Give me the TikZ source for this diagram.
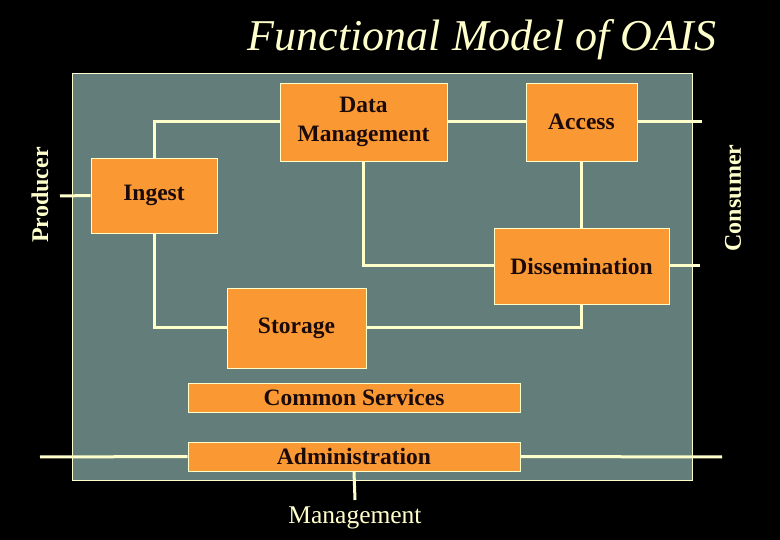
\documentclass[tikz,border=0pt]{standalone}
\usepackage{fontspec}
\setmainfont{Liberation Serif}
\definecolor{panelgray}{RGB}{99,125,122}
\definecolor{boxorange}{RGB}{250,153,51}
\definecolor{linecream}{RGB}{255,255,204}
\definecolor{labeldark}{RGB}{26,10,10}
\tikzset{
  func/.style={draw=linecream, line width=0.8pt, fill=boxorange, inner sep=0pt,
    text=labeldark, font=\fontsize{23.5}{29}\selectfont\bfseries, align=center},
  flow/.style={draw=linecream, line width=3pt},
  outer/.style={text=linecream, font=\fontsize{24}{28}\selectfont\bfseries}
}
\begin{document}
\begin{tikzpicture}[x=1pt,y=-1pt]
	\useasboundingbox[fill=black] (0,0) rectangle (780,540);
	\node[text=linecream, font=\fontsize{44}{48}\selectfont\itshape] (title) at (482,40) {Functional Model of OAIS};
	% the OAIS box
	\draw[fill=panelgray, draw=linecream, line width=0.8pt] (72,73) rectangle (692,480);
	\node[func, minimum width=126pt, minimum height=75pt] (ingest) at (154,195.5) {Ingest};
	\node[func, minimum width=167pt, minimum height=78pt] (dm) at (363.5,122) {Data\\Management};
	\node[func, minimum width=111pt, minimum height=78pt] (access) at (581.5,122) {Access};
	\node[func, minimum width=175pt, minimum height=76pt] (diss) at (581.5,266) {Dissemination};
	\node[func, minimum width=139pt, minimum height=80pt] (storage) at (296.5,328) {Storage};
	\node[func, minimum width=332pt, minimum height=29pt] (common) at (354,397.5) {Common Services};
	\node[func, minimum width=332pt, minimum height=29pt] (admin) at (354,456.5) {Administration};
	% outside parties
	\node[outer, rotate=90] (producer) at (40,195) {Producer};
	\node[outer, rotate=90] (consumer) at (733,198) {Consumer};
	\node[text=linecream, font=\fontsize{25.5}{28}\selectfont] (mgmt) at (355,518) {Management};
	\coordinate (prodend) at (60,196);
	\coordinate (accend) at (702,122);
	\coordinate (dissend) at (700,266);
	\coordinate (admleft) at (40,457);
	\coordinate (admright) at (722,457);
	\coordinate (mgmtend) at (355,500);
	% flows
	\draw[flow] (prodend) -- (ingest.west);
	\draw[flow] (ingest.north) |- (dm.west);
	\draw[flow] (ingest.south) |- (storage.west);
	\draw[flow] (storage.east) -| (diss.south);
	\draw[flow] (dm.south) |- (diss.west);
	\draw[flow] (dm.east) -- (access.west);
	\draw[flow] (access.south) -- (diss.north);
	\draw[flow] (access.east) -- (accend);
	\draw[flow] (diss.east) -- (dissend);
	\draw[flow] (admleft) -- (admin.west);
	\draw[flow] (admin.east) -- (admright);
	\draw[flow] (admin.south) -- (mgmtend);
\end{tikzpicture}
\end{document}
